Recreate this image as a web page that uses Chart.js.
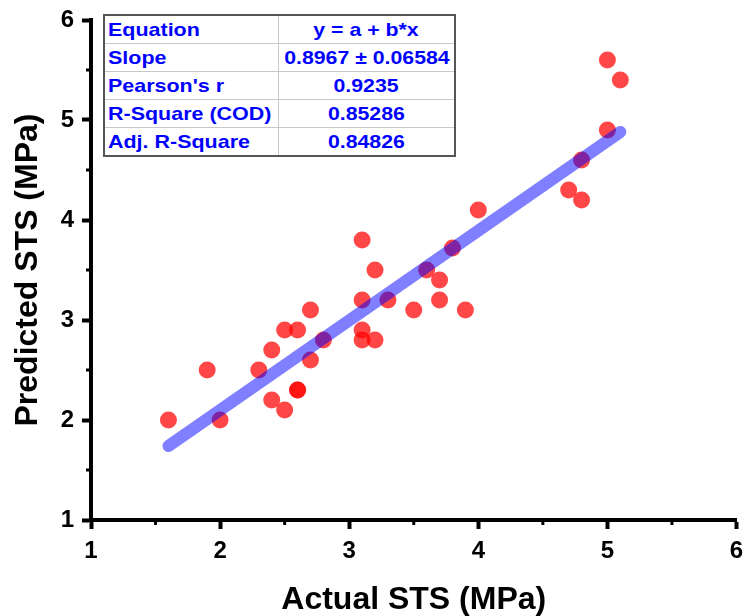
<!DOCTYPE html>
<html>
<head>
<meta charset="utf-8">
<script src="https://cdn.jsdelivr.net/npm/chart.js@4/dist/chart.umd.min.js"></script>
<style>
  html, body { margin: 0; padding: 0; background: #fff; }
  #wrap { position: relative; width: 745px; height: 616px; overflow: hidden; }
  #c { position: absolute; left: 0; top: 0; }
  #stats {
    position: absolute; left: 103px; top: 14px; width: 353px; height: 141px;
    border-collapse: collapse; border: 2px solid #555; background: #fff;
    font-family: "Liberation Sans", Arial, sans-serif; font-weight: bold; font-size: 19px;
    color: #0000ff; table-layout: fixed;
  }
  #stats td { border: 1px solid #c8c8c8; height: 27px; padding: 0; white-space: nowrap; overflow: visible; line-height: 27px; }
  #stats td.k { width: 170px; padding-left: 3px; }
  #stats td.v { text-align: center; }
  #stats td.k span { display: inline-block; transform: scaleX(1.13); transform-origin: left center; }
  #stats td.v span { display: inline-block; transform: scaleX(1.12); transform-origin: center center; }
</style>
</head>
<body>
<div id="wrap">
  <canvas id="c" width="745" height="616"></canvas>
  <table id="stats"></table>
</div>
<script>
// ---- data ----
const actualSTS = [1.6, 1.9, 2.0, 2.3, 2.4, 2.4, 2.5, 2.5, 2.6, 2.6, 2.6, 2.7, 2.7, 2.8,
                   3.1, 3.2, 3.1, 3.1, 3.1, 3.2, 3.3, 3.5, 3.6, 3.7, 3.7, 3.8, 3.9, 4.0,
                   4.7, 4.8, 4.8, 5.0, 5.0, 5.1];
const predictedSTS = [2.0, 2.5, 2.0, 2.5, 2.7, 2.2, 2.9, 2.1, 2.9, 2.3, 2.3, 3.1, 2.6, 2.8,
                      3.8, 3.5, 3.2, 2.9, 2.8, 2.8, 3.2, 3.1, 3.5, 3.4, 3.2, 3.72, 3.1, 4.1,
                      4.3, 4.2, 4.6, 4.9, 5.6, 5.4];
const fitX = [1.6, 5.1];
const fitY = [1.74, 4.88];
const xTickValues = [1, 2, 3, 4, 5, 6];
const yTickValues = [1, 2, 3, 4, 5, 6];
const statLabels = ["Equation", "Slope", "Pearson's r", "R-Square (COD)", "Adj. R-Square"];
const statValues = ["y = a + b*x", "0.8967 \u00b1 0.06584", "0.9235", "0.85286", "0.84826"];

// ---- stats table ----
const tbl = document.getElementById('stats');
statLabels.forEach((k, i) => {
  const tr = document.createElement('tr');
  const a = document.createElement('td'); a.className = 'k';
  const sa = document.createElement('span'); sa.textContent = k; a.appendChild(sa);
  const b = document.createElement('td'); b.className = 'v';
  const sb = document.createElement('span'); sb.textContent = statValues[i]; b.appendChild(sb);
  tr.appendChild(a); tr.appendChild(b); tbl.appendChild(tr);
});

const FONT = "'Liberation Sans', Arial, sans-serif";

const minorTicks = {
  id: 'minorTicks',
  afterDraw(chart) {
    const ctx = chart.ctx;
    const xs = chart.scales.x, ys = chart.scales.y;
    const area = chart.chartArea;
    ctx.save();
    ctx.strokeStyle = '#000';
    ctx.lineWidth = 3;
    for (let i = 0; i < xTickValues.length - 1; i++) {
      const v = (xTickValues[i] + xTickValues[i + 1]) / 2;
      const px = xs.getPixelForValue(v);
      ctx.beginPath(); ctx.moveTo(px, area.bottom); ctx.lineTo(px, area.bottom + 5); ctx.stroke();
    }
    for (let i = 0; i < yTickValues.length - 1; i++) {
      const v = (yTickValues[i] + yTickValues[i + 1]) / 2;
      const py = ys.getPixelForValue(v);
      ctx.beginPath(); ctx.moveTo(area.left, py); ctx.lineTo(area.left - 5, py); ctx.stroke();
    }
    ctx.restore();
  }
};

new Chart(document.getElementById('c'), {
  type: 'scatter',
  data: {
    datasets: [
      {
        type: 'line',
        label: 'Fit',
        data: fitX.map((x, i) => ({ x: x, y: fitY[i] })),
        borderColor: 'rgba(0,0,255,0.5)',
        borderWidth: 12,
        borderCapStyle: 'round',
        pointRadius: 0,
        fill: false,
        order: 0
      },
      {
        label: 'Data',
        data: actualSTS.map((x, i) => ({ x: x, y: predictedSTS[i] })),
        backgroundColor: 'rgba(255,0,0,0.72)',
        borderWidth: 0,
        pointRadius: 8.5,
        pointHoverRadius: 8.5,
        order: 1
      }
    ]
  },
  options: {
    responsive: false,
    animation: false,
    clip: false,
    layout: { padding: { top: 20, right: 8, left: 0, bottom: 0 } },
    plugins: { legend: { display: false }, tooltip: { enabled: false } },
    scales: {
      x: {
        type: 'linear', min: 1, max: 6,
        afterFit(s) { s.height = 96; s.paddingRight = 0; s.paddingLeft = 0; },
        afterBuildTicks(s) { s.ticks = xTickValues.map(v => ({ value: v })); },
        ticks: { color: '#000', font: { family: FONT, size: 24, weight: 'bold' }, padding: 8 },
        grid: { display: true, drawOnChartArea: false, drawTicks: true, tickLength: 9, tickWidth: 4, tickColor: '#000' },
        border: { display: true, width: 4, color: '#000' },
        title: { display: true, text: 'Actual STS (MPa)', color: '#000',
                 font: { family: FONT, size: 32, weight: 'bold', lineHeight: 1 }, padding: { top: 0, bottom: 0 } }
      },
      y: {
        type: 'linear', min: 1, max: 6,
        afterFit(s) { s.width = 91; s.paddingTop = 0; s.paddingBottom = 0; },
        afterBuildTicks(s) { s.ticks = yTickValues.map(v => ({ value: v })); },
        ticks: { color: '#000', font: { family: FONT, size: 24, weight: 'bold' }, padding: 8 },
        grid: { display: true, drawOnChartArea: false, drawTicks: true, tickLength: 9, tickWidth: 4, tickColor: '#000' },
        border: { display: true, width: 4, color: '#000' },
        title: { display: true, text: 'Predicted STS (MPa)', color: '#000',
                 font: { family: FONT, size: 32, weight: 'bold', lineHeight: 1 }, padding: { top: 12, bottom: 0 } }
      }
    }
  },
  plugins: [minorTicks]
});
</script>
</body>
</html>
